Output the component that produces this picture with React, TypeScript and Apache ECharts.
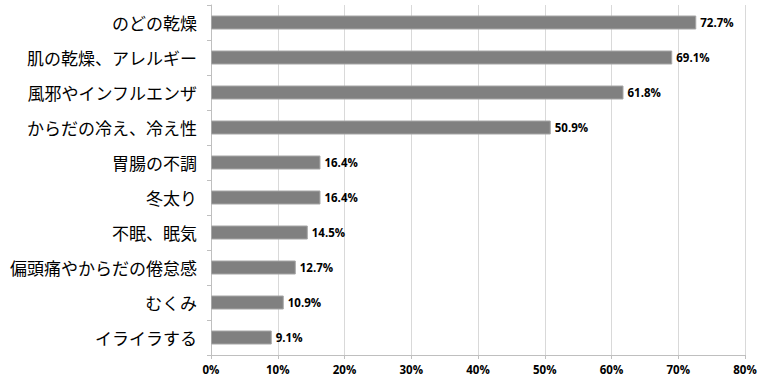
import React, { useEffect, useRef } from "react";
import * as echarts from "echarts";

const categories = [
  "のどの乾燥",
  "肌の乾燥、アレルギー",
  "風邪やインフルエンザ",
  "からだの冷え、冷え性",
  "胃腸の不調",
  "冬太り",
  "不眠、眠気",
  "偏頭痛やからだの倦怠感",
  "むくみ",
  "イライラする",
];
const values = [72.7, 69.1, 61.8, 50.9, 16.4, 16.4, 14.5, 12.7, 10.9, 9.1];
const axisMax = 80;
const axisInterval = 10;

export default function App() {
  const ref = useRef<HTMLDivElement>(null);
  useEffect(() => {
    if (!ref.current) return;
    const chart = echarts.init(ref.current, undefined, { renderer: "svg" });
    chart.setOption({
      animation: false,
      backgroundColor: "#ffffff",
      grid: { left: 211, right: 15, top: 5, bottom: 26, containLabel: false },
      xAxis: {
        type: "value",
        min: 0,
        max: axisMax,
        interval: axisInterval,
        axisLine: { show: true, lineStyle: { color: "#bfbfbf" } },
        axisTick: { show: true, length: 4, lineStyle: { color: "#bfbfbf" } },
        splitLine: { show: true, lineStyle: { color: "#d9d9d9", width: 1 } },
        axisLabel: {
          formatter: "{value}%",
          color: "#000",
          fontWeight: "bold",
          fontSize: 11.5,
          fontFamily: "Open Sans, Liberation Sans, sans-serif",
          margin: 8,
        },
      },
      yAxis: {
        type: "category",
        inverse: true,
        data: categories,
        axisLine: { show: true, lineStyle: { color: "#bfbfbf" } },
        axisTick: { show: true, length: 4, lineStyle: { color: "#bfbfbf" } },
        axisLabel: {
          color: "#000",
          fontSize: 17,
          fontFamily: "Noto Sans CJK JP, sans-serif",
          margin: 14,
        },
      },
      series: [
        {
          type: "bar",
          data: values,
          barWidth: 14,
          itemStyle: { color: "#808080", borderColor: "#a6a6a6", borderWidth: 1 },
          label: {
            show: true,
            position: "right",
            distance: 4,
            formatter: (p: any) => p.value.toFixed(1) + "%",
            color: "#000",
            fontWeight: "bold",
            fontSize: 11.5,
            fontFamily: "Open Sans, Liberation Sans, sans-serif",
          },
        },
      ],
    });
    return () => chart.dispose();
  }, []);
  return <div ref={ref} style={{ width: 760, height: 381, position: "absolute", left: 0, top: 0 }} />;
}
